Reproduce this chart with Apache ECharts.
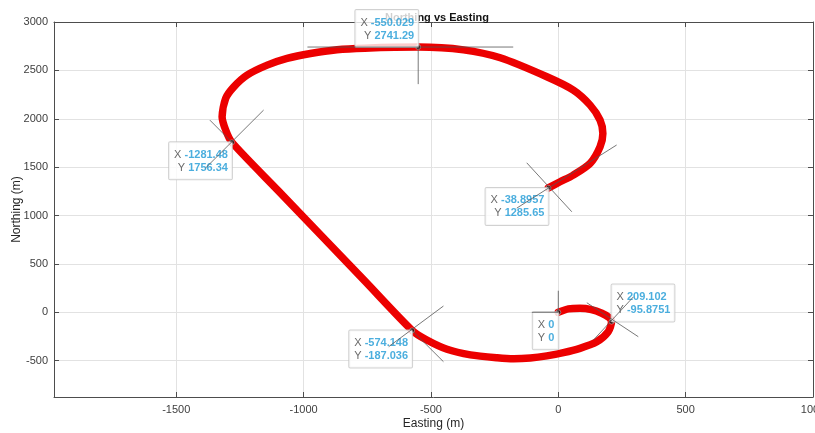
<!DOCTYPE html>
<html>
<head>
<meta charset="utf-8">
<title>Northing vs Easting</title>
<script src="https://cdn.jsdelivr.net/npm/echarts@6/dist/echarts.min.js"></script>
<style>
  html, body { margin: 0; padding: 0; background: #fff; }
  #chart { width: 815px; height: 433px; }
</style>
</head>
<body>
<div id="chart"></div>
<script>
// vehicle track (m)
const easting = [0, 40, 85, 130, 171, 200, 209.102, 196, 151, 85, 20, -45, -110, -175, -240, -345, -437, -516,
  -574.148, -760, -1100, -1281.48, -1306, -1320, -1306, -1274, -1222, -1143, -1065, -973, -869, -760,
  -550.029, -372, -228, -45, 59, 125, 164, 175, 164, 125, 59, 7, -38.8957];
const northing = [0, 35, 42, 28, -10, -55, -95.8751, -200, -304, -372, -417, -450, -472, -480, -470, -440, -382, -286,
  -187.036, 324, 1258, 1756.34, 1884, 2021, 2211, 2330, 2451, 2554, 2624, 2675, 2714, 2730,
  2741.29, 2712, 2630, 2434, 2296, 2141, 1986, 1849, 1711, 1539, 1418, 1349, 1285.65];

// data tips
const tipEasting = [-550.029, -1281.48, -38.8957, -574.148, 209.102, 0];
const tipNorthing = [2741.29, 1756.34, 1285.65, -187.036, -95.8751, 0];
const tipCorner = ['bottomRight', 'topRight', 'topRight', 'topRight', 'bottomLeft', 'topRight'];

// thin cursor lines through the tips, [[e1, n1], [e2, n2]]
const cursorLines = [
  [[-985, 2741.29], [-177, 2741.29]],
  [[-550.029, 2741.29], [-550.029, 2358]],
  [[-1157, 2090], [-1385, 1491]],
  [[-1368, 1986], [-1281.48, 1756.34]],
  [[229, 1729], [-163, 1077]],
  [[-124, 1545], [53, 1039]],
  [[-451, 65], [-666, -355]],
  [[-574.148, -187.036], [-451, -510]],
  [[112, 99], [314, -252]],
  [[295, 160], [138, -286]],
  [[-104, 0], [0, 0]],
  [[0, 223], [0, 0]]
];

const xTicks = [-1500, -1000, -500, 0, 500, 1000];
const yTicks = [-500, 0, 500, 1000, 1500, 2000, 2500, 3000];

const FONT = 'Liberation Sans, Arial, sans-serif';
const axisColor = '#4d4d4d';

function g6(v) {
  return String(parseFloat(v.toPrecision(6)));
}

function frameAxis(pos, min, max, ticks) {
  return {
    type: 'value', position: pos, min: min, max: max,
    axisLine: { show: true, onZero: false, lineStyle: { color: axisColor, width: 1 } },
    axisTick: { show: true, inside: true, length: 5, customValues: ticks, lineStyle: { color: axisColor } },
    axisLabel: { show: false },
    splitLine: { show: false }
  };
}

const chart = echarts.init(document.getElementById('chart'), null, { renderer: 'canvas' });

const cornerAlign = {
  bottomRight: ['right', 'bottom'],
  topRight: ['right', 'top'],
  bottomLeft: ['left', 'bottom']
};

chart.setOption({
  animation: false,
  backgroundColor: '#fff',
  textStyle: { fontFamily: FONT },
  title: {
    text: 'Northing vs Easting',
    left: 380, top: 7, z: 0,
    textStyle: { fontSize: 11, fontWeight: 'bold', color: '#111', fontFamily: FONT }
  },
  grid: { left: 54, right: 2, top: 22, bottom: 36, containLabel: false, outerBoundsMode: 'none' },
  xAxis: [
    {
      type: 'value', position: 'bottom', min: -1980, max: 1000,
      name: 'Easting (m)', nameLocation: 'middle', nameGap: 21, nameMoveOverlap: false,
      nameTextStyle: { fontSize: 12, color: '#262626', fontFamily: FONT },
      axisLine: { show: true, onZero: false, lineStyle: { color: axisColor, width: 1 } },
      axisTick: { show: true, inside: true, length: 5, customValues: xTicks, lineStyle: { color: axisColor } },
      axisLabel: { customValues: xTicks, fontSize: 11, color: '#404040', margin: 7, fontFamily: FONT,
        formatter: v => String(v) },
      splitLine: { show: true, lineStyle: { color: '#e2e2e2', width: 1 } }
    },
    frameAxis('top', -1980, 1000, xTicks)
  ],
  yAxis: [
    {
      type: 'value', position: 'left', min: -875, max: 3000,
      name: 'Northing (m)', nameLocation: 'middle', nameGap: 31, nameRotate: 90, nameMoveOverlap: false,
      nameTextStyle: { fontSize: 12, color: '#262626', fontFamily: FONT },
      axisLine: { show: true, onZero: false, lineStyle: { color: axisColor, width: 1 } },
      axisTick: { show: true, inside: true, length: 5, customValues: yTicks, lineStyle: { color: axisColor } },
      axisLabel: { customValues: yTicks, fontSize: 11, color: '#404040', margin: 6, fontFamily: FONT,
        formatter: v => String(v) },
      splitLine: { show: true, lineStyle: { color: '#e2e2e2', width: 1 } }
    },
    frameAxis('right', -875, 3000, yTicks)
  ],
  series: [
    {
      name: 'track', type: 'line', xAxisIndex: 0, yAxisIndex: 0,
      data: easting.map((e, i) => [e, northing[i]]),
      showSymbol: false, symbol: 'none', smooth: 0.25,
      lineStyle: { color: '#ec0000', width: 7.5, cap: 'round', join: 'round' },
      z: 3, silent: true
    }
  ].concat(cursorLines.map(seg => ({
    type: 'line', data: seg, symbol: 'none', silent: true, zlevel: 2, z: 4,
    lineStyle: { color: '#555', width: 0.8 }
  }))).concat([
    {
      name: 'tips', type: 'scatter', zlevel: 1, z: 10,
      symbol: 'circle', symbolSize: 5,
      itemStyle: { color: '#111', borderColor: '#ddd', borderWidth: 0.6 },
      data: tipEasting.map((e, i) => ({
        value: [e, tipNorthing[i]],
        label: {
          align: cornerAlign[tipCorner[i]][0],
          verticalAlign: cornerAlign[tipCorner[i]][1]
        }
      })),
      label: {
        show: true,
        position: ['50%', '50%'],
        backgroundColor: '#fff',
        borderColor: '#c6c6c6', borderWidth: 1, borderRadius: 1,
        padding: [6, 4, 5, 5],
        lineHeight: 13,
        formatter: p => '{k|X }{v|' + g6(p.value[0]) + '}\n{k|Y }{v|' + g6(p.value[1]) + '}',
        rich: {
          k: { color: '#444', fontSize: 11, lineHeight: 13, fontFamily: FONT },
          v: { color: '#1e9ad6', fontSize: 11, fontWeight: 'bold', lineHeight: 13, fontFamily: FONT }
        }
      }
    }
  ])
});
</script>
</body>
</html>
